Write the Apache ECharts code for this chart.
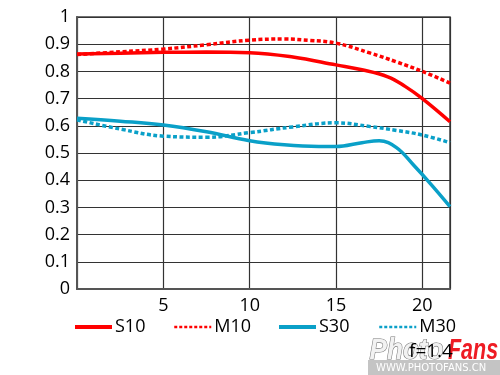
<!DOCTYPE html>
<html><head><meta charset="utf-8">
<script src="https://cdn.jsdelivr.net/npm/echarts@6/dist/echarts.min.js"></script>
<style>html,body{margin:0;padding:0;background:#fff}#c{width:500px;height:375px}</style>
</head><body><div id="c"></div>
<script>
const xTicks = [0, 5, 10, 15, 20];
const yTicks = [0, 0.1, 0.2, 0.3, 0.4, 0.5, 0.6, 0.7, 0.8, 0.9, 1];
const S10 = [[0,0.864],[2.5,0.867],[5,0.870],[7.5,0.871],[10,0.869],[12.5,0.853],[15,0.824],[16.5,0.806],[18,0.78],[19,0.745],[20,0.70],[21.6,0.615]];
const M10 = [[0,0.862],[2.5,0.872],[5,0.882],[7.5,0.898],[10,0.915],[12,0.919],[13.5,0.914],[15,0.904],[17,0.867],[18.5,0.835],[20,0.80],[21.6,0.757]];
const S30 = [[0,0.628],[2.5,0.617],[5,0.603],[7.5,0.578],[10,0.545],[12,0.530],[14,0.524],[15,0.524],[16.5,0.538],[17.5,0.545],[18.5,0.52],[19.5,0.455],[20.5,0.385],[21.6,0.303]];
const M30 = [[0,0.622],[2.5,0.588],[5,0.562],[7.5,0.558],[10,0.575],[12.5,0.596],[15,0.611],[17,0.597],[18.5,0.583],[20,0.566],[21.6,0.538]];
const names = ['S10','M10','S30','M30'];
const legendLeft = [73, 173, 277, 378];
const RED = '#ff0000', BLUE = '#0aa0c8';

const chart = echarts.init(document.getElementById('c'));
function ser(name, data, color, dotted){
  return {name, type:'line', data, smooth:0.4, symbol:'none', silent:true,
    lineStyle:{color, width:3.5, type: dotted ? [4,2.5] : 'solid'}, itemStyle:{color}};
}
const FONT = 'Open Sans';
chart.setOption({
  animation:false,
  grid:{left:77, right:50, top:17, bottom:86, show:true, borderColor:'#444', borderWidth:1.5},
  xAxis:{type:'value', min:0, max:21.6, interval:5,
    axisLine:{show:true, lineStyle:{color:'#555', width:2}}, axisTick:{show:false},
    splitLine:{show:true, lineStyle:{color:'#333', width:1.2}},
    axisLabel:{color:'#000', fontSize:18, fontFamily:FONT, margin:8, showMinLabel:false, showMaxLabel:false,
      formatter:v => xTicks.includes(v) && v!==0 ? String(v) : ''}},
  yAxis:{type:'value', min:0, max:1, interval:0.1,
    axisLine:{show:true, lineStyle:{color:'#555', width:2}}, axisTick:{show:false},
    splitLine:{show:true, lineStyle:{color:'#333', width:1.2}},
    axisLabel:{color:'#000', fontSize:18, fontFamily:FONT, margin:7,
      formatter:v => { const t = yTicks.find(k => Math.abs(k-v)<1e-6); return t===undefined ? '' : String(t); }}},
  legend: names.map((n,i) => ({show:true, top:318, left:legendLeft[i], padding:0, itemWidth:37, itemHeight:20,
    textStyle:{fontSize:18, fontFamily:FONT, color:'#000', padding:[0,0,0,-2]},
    itemStyle:{opacity:0, borderWidth:0},
    lineStyle:{width: i%2 ? 2.5 : 4, type: i%2 ? [3,2] : 'solid'},
    data:[{name:n}]})),
  graphic:[
    {type:'text', left:369, top:336, scaleX:0.9, style:{text:'Photo', font:'italic bold 29px "Liberation Sans"', fill:'#f2f2f2', stroke:'#777', lineWidth:1.2}},
    {type:'text', left:448, top:336, scaleX:0.74, style:{text:'Fans', font:'italic bold 29px "Liberation Sans"', fill:'#ee1c24'}},
    {type:'rect', shape:{x:368, y:360, width:132, height:15}, style:{fill:'#c4c4c4'}},
    {type:'text', left:376, top:363, style:{text:'WWW.PHOTOFANS.CN', font:'10px "DejaVu Sans"', fill:'#fff'}},
    {type:'text', left:409, top:342, style:{text:'f=1.4', font:'19px "Open Sans"', fill:'#000'}}
  ],
  series:[ser('S10',S10,RED,false), ser('M10',M10,RED,true), ser('S30',S30,BLUE,false), ser('M30',M30,BLUE,true)]
});
</script></body></html>
